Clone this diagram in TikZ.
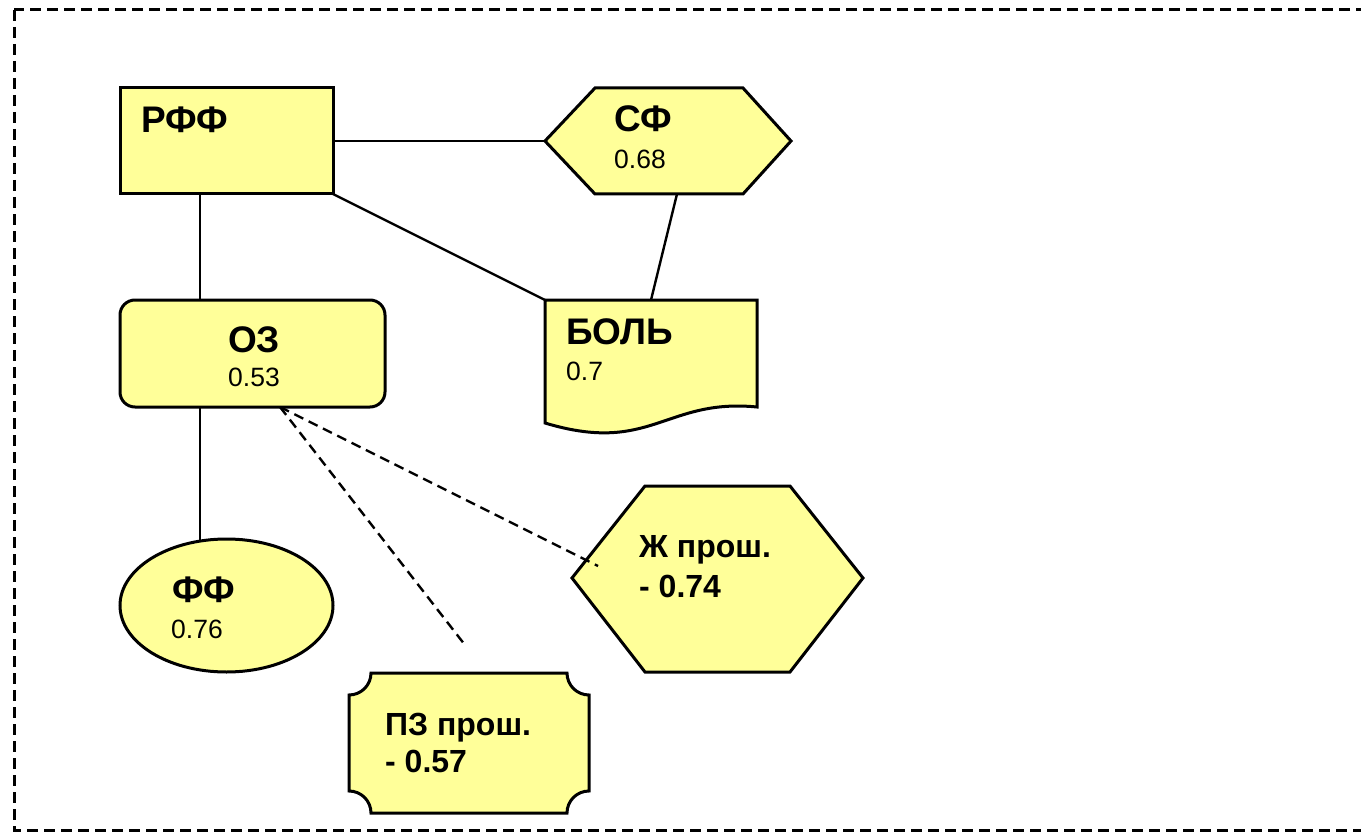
\documentclass[tikz,border=0pt]{standalone}
\usepackage{fontspec}
\setmainfont{Liberation Sans}
\begin{document}
\begin{tikzpicture}[x=1pt,y=-1pt,
  shapebox/.style={draw=black, fill=yellowfill, line width=3pt, line join=miter},
  conn/.style={draw=black, line width=2.4pt},
  dconn/.style={draw=black, line width=2.4pt, dash pattern=on 10pt off 6pt},
  bigtxt/.style={anchor=base west, inner sep=0pt, font=\fontsize{37}{42}\selectfont\bfseries},
  midtxt/.style={anchor=base west, inner sep=0pt, font=\fontsize{32}{38}\selectfont\bfseries},
  numtxt/.style={anchor=base west, inner sep=0pt, font=\fontsize{26.5}{32}\selectfont}]
\definecolor{yellowfill}{HTML}{FFFF99}
\useasboundingbox (0,0) rectangle (1361,832);
% frame
\draw[line width=3pt, dash pattern=on 11pt off 6pt] (14,10) rectangle (1375,830);

% RFF rectangle
\draw[shapebox] (120,88) rectangle (333,194);
\coordinate (rffR) at (333,141);
\coordinate (rffBR) at (333,194);
\coordinate (rffB) at (200,194);
\node[bigtxt] (rfft) at (141,133) {РФФ};

% SF hexagon
\draw[shapebox] (545,141) -- (595,88) -- (743,88) -- (791,141) -- (743,194) -- (595,194) -- cycle;
\coordinate (sfL) at (545,141);
\coordinate (sfB) at (677,194);
\node[bigtxt] (sft) at (614,132) {СФ};
\node[numtxt] (sfn) at (614,169) {0.68};

% BOL document
\draw[shapebox] (545,300) -- (757,300) -- (757,407) .. controls (665,398) and (651,455) .. (545,423) -- cycle;
\coordinate (bolTL) at (545,300);
\coordinate (bolT) at (651,300);
\node[bigtxt] (bolt) at (566,344) {БОЛЬ};
\node[numtxt] (boln) at (566,380) {0.7};

% OZ rounded rectangle
\draw[shapebox, rounded corners=15pt] (120,300) rectangle (385,407);
\coordinate (ozT) at (200,300);
\coordinate (ozB) at (200,407);
\coordinate (ozD) at (280,407);
\node[bigtxt] (ozt) at (228,352) {ОЗ};
\node[numtxt] (ozn) at (228,386) {0.53};

% FF ellipse
\draw[shapebox] (226.5,605.5) ellipse [x radius=106.5, y radius=66.5];
\coordinate (ffT) at (200,540);
\node[bigtxt] (fft) at (172,602) {ФФ};
\node[numtxt] (ffn) at (171,638) {0.76};

% Zh hexagon
\draw[shapebox] (572,578) -- (645,486) -- (790,486) -- (863,578) -- (790,672) -- (645,672) -- cycle;
\coordinate (zhE) at (598,566);
\node[midtxt] (zht) at (639,557) {Ж прош.};
\node[midtxt] (zhn) at (639,597) {- 0.74};

% PZ plaque
\draw[shapebox] (371,673) -- (567,673) arc[start angle=180, end angle=90, radius=22]
  -- (589,791) arc[start angle=270, end angle=180, radius=22]
  -- (371,813) arc[start angle=360, end angle=270, radius=22]
  -- (349,695) arc[start angle=90, end angle=0, radius=22] -- cycle;
\coordinate (pzE) at (465,645);
\node[midtxt] (pzt) at (385,735) {ПЗ прош.};
\node[midtxt] (pzn) at (385,772) {- 0.57};

% connectors
\draw[conn] (rffR) -- (sfL);
\draw[conn] (rffBR) -- (bolTL);
\draw[conn] (sfB) -- (bolT);
\draw[conn] (rffB) -- (ozT);
\draw[conn] (ozB) -- (ffT);
\draw[dconn] (ozD) -- (pzE);
\draw[dconn] (ozD) -- (zhE);
\end{tikzpicture}
\end{document}
